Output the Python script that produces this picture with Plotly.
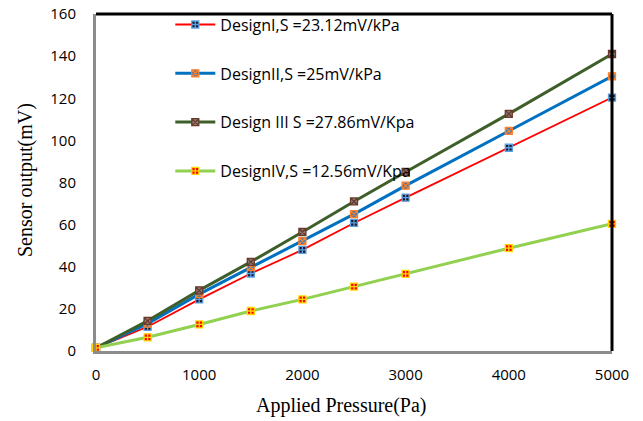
import plotly.graph_objects as go

pressure = [0, 500, 1000, 1500, 2000, 2500, 3000, 4000, 5000]
design1 = [1.5, 11.5, 24.5, 36.8, 48.0, 60.8, 72.8, 96.5, 120.3]
design2 = [1.5, 13.0, 27.0, 39.8, 52.2, 65.0, 78.5, 104.5, 130.4]
design3 = [1.5, 14.3, 28.8, 42.3, 56.5, 71.0, 85.0, 112.6, 141.0]
design4 = [1.5, 6.5, 12.6, 19.0, 24.5, 30.6, 36.6, 48.8, 60.4]

names = ["DesignI,S =23.12mV/kPa", "DesignII,S =25mV/kPa",
         "Design III S =27.86mV/Kpa", "DesignIV,S =12.56mV/Kpa"]
series = [design1, design2, design3, design4]
line_colors = ["#ff0000", "#0070c0", "#3f5f2a", "#92d050"]
line_widths = [1.8, 3, 3, 3]
marker_sym = ["square-cross", "square-x", "square-x", "square-cross"]
marker_fill = ["#1a1a2e", "#4a7aa8", "#8a7a7a", "#ff0000"]
marker_line = ["#5aa0e0", "#ff7f2a", "#6a3a2a", "#ffd700"]

fig = go.Figure()
for i in range(4):
    fig.add_trace(go.Scatter(
        x=pressure, y=series[i], name=names[i], mode="lines+markers",
        legendgroup=f"g{i}",
        line=dict(color=line_colors[i], width=line_widths[i]),
        marker=dict(symbol=marker_sym[i], size=7, color=marker_fill[i],
                    line=dict(color=marker_line[i], width=1.3)),
        cliponaxis=False,
    ))

fig.update_layout(
    width=643, height=421,
    margin=dict(l=96, r=31, t=14, b=70, autoexpand=False),
    paper_bgcolor="white", plot_bgcolor="white",
    font=dict(family="Open Sans, Liberation Sans, sans-serif", size=15, color="#000"),
    legend=dict(x=0.144, y=1.019, xanchor="left", yanchor="top",
                bgcolor="rgba(0,0,0,0)", tracegroupgap=25,
                font=dict(size=16), itemwidth=40),
    xaxis=dict(range=[0, 5000], tickvals=[0, 1000, 2000, 3000, 4000, 5000],
               showgrid=False, zeroline=False, showline=True, linecolor="#8c8c8c",
               linewidth=3, ticks="", tickfont=dict(size=15), ticklabelstandoff=8),
    yaxis=dict(range=[0, 160], tickvals=list(range(0, 161, 20)),
               showgrid=False, zeroline=False, showline=True, linecolor="#8c8c8c",
               linewidth=3, ticks="", tickfont=dict(size=15), ticklabelstandoff=14),
    shapes=[
        dict(type="line", xref="paper", yref="paper", x0=0, x1=1, y0=1, y1=1,
             line=dict(color="black", width=3)),
        dict(type="line", xref="paper", yref="paper", x0=1, x1=1, y0=0, y1=1,
             line=dict(color="black", width=3)),
    ],
    annotations=[
        dict(text="Applied Pressure(Pa)", xref="paper", yref="paper",
             x=(341 - 96) / (643 - 96 - 31), y=-(405 - 351) / (421 - 14 - 70),
             xanchor="center", yanchor="middle", showarrow=False,
             font=dict(family="Liberation Serif, serif", size=20)),
        dict(text="Sensor output(mV)", xref="paper", yref="paper",
             x=-(96 - 25) / (643 - 96 - 31), y=(351 - 180) / (421 - 14 - 70),
             xanchor="center", yanchor="middle", showarrow=False, textangle=-90,
             font=dict(family="Liberation Serif, serif", size=20)),
    ],
)

fig.write_html("out.html")
